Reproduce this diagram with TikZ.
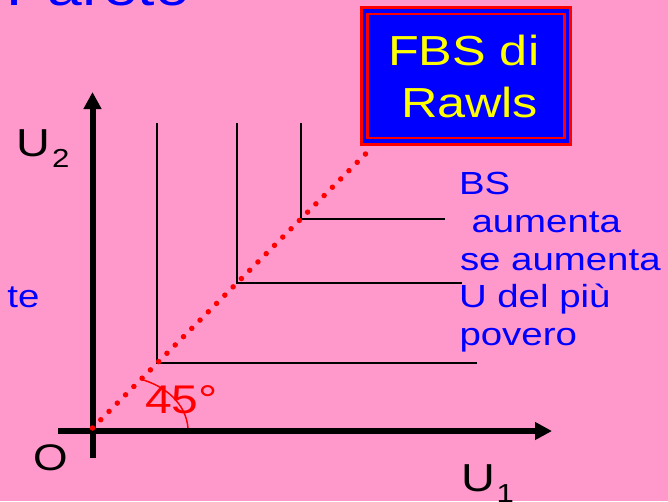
\documentclass[tikz,border=0pt]{standalone}
\usepackage{fontspec}
\setmainfont{Liberation Sans}[FakeStretch=1.2]
\usetikzlibrary{arrows.meta}
\definecolor{bgpink}{RGB}{255,153,204}
\definecolor{pblue}{RGB}{0,0,255}
\definecolor{pred}{RGB}{255,0,0}
\definecolor{pyellow}{RGB}{255,255,0}
\tikzset{
  txt/.style={inner sep=0pt, outer sep=0pt, anchor=base west},
  axis/.style={line width=6pt, -{Triangle[length=17pt,width=17pt]}},
  icurve/.style={line width=2pt, black},
  rawls/.style={red, line width=5.5pt, line cap=round, dash pattern=on 0pt off 11.72pt},
}
\newcommand{\fs}[1]{\fontsize{#1}{#1}\selectfont}
\begin{document}
\begin{tikzpicture}[x=1pt,y=-1pt]
\fill[bgpink] (0,0) rectangle (668,501);
\useasboundingbox (0,0) rectangle (668,501);

% title remnant
\node[txt, pblue] (title) at (6,5) {\fs{52}Pareto};
\node[txt, pblue, anchor=base east] (te) at (39.5,307) {\fs{32}te};

% axes
\coordinate (ybot) at (92.5,458);
\coordinate (ytop) at (92.5,92);
\coordinate (xleft) at (58,431);
\coordinate (xright) at (552,431);
\draw[line width=6pt] (ybot) -- (92.5,431);
\draw[axis] (92.5,433) -- (ytop);
\draw[axis] (xleft) -- (xright);

% indifference curves (Rawls L-shapes)
\coordinate (c1) at (156.7,362.5);
\coordinate (c2) at (236.7,282.5);
\coordinate (c3) at (300.7,218.5);
\draw[icurve] (156.7,122.5) -- (c1) -- (477,362.5);
\draw[icurve] (236.7,122.5) -- (c2) -- (462,282.5);
\draw[icurve] (300.7,122.5) -- (c3) -- (445,218.5);

% box
\coordinate (bx1) at (361.5,7.5);
\coordinate (bx2) at (570.5,144.5);
\fill[pblue] (bx1) rectangle (bx2);
\draw[pred, line width=3pt] (bx1) rectangle (bx2);
\draw[pred, line width=2.5pt] (367.5,14) rectangle (564.5,138);
\node[txt, pyellow] (fbs) at (388,65) {\fs{42}FBS di};
\node[txt, pyellow] (rw) at (401,117) {\fs{42}Rawls};

% Rawls line (45 degrees)
\coordinate (orig) at (92.5,428);
\coordinate (rend) at (373,146.5);
\draw[rawls] (orig) -- (rend);

% angle
\coordinate (a1) at (140,379);
\coordinate (a2) at (188,428);
\draw[pred, line width=1.5pt] (a1) .. controls (166,386) and (186,404) .. (a2);
\node[txt, pred] (ang) at (145,413) {\fs{40}45°};

% labels
\node[txt] (u2) at (16.3,156) {\fs{39}U};
\node[txt] (u2s) at (52,167) {\fs{26}2};
\node[txt] (u1) at (461.3,491) {\fs{39}U};
\node[txt] (u1s) at (496.6,502) {\fs{26}1};
\node[txt] (o) at (33,470) {\fs{37}O};

% right text
\node[txt, pblue] (l1) at (459,194) {\fs{32}BS};
\node[txt, pblue] (l2) at (471.5,232) {\fs{32}aumenta};
\node[txt, pblue] (l3) at (460,270) {\fs{32}se aumenta};
\node[txt, pblue] (l4) at (459,307.5) {\fs{32}U del più};
\node[txt, pblue] (l5) at (459.5,345) {\fs{32}povero};
\end{tikzpicture}
\end{document}
